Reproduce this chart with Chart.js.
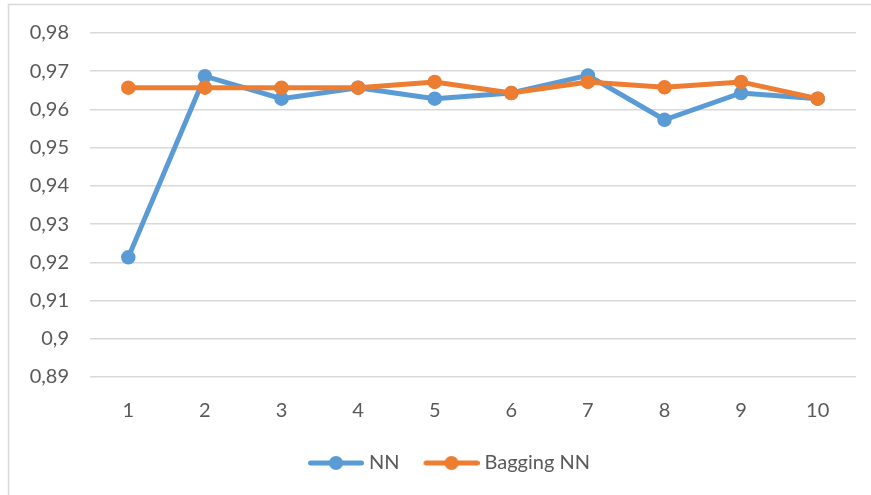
<!DOCTYPE html>
<html>
<head>
<meta charset="utf-8">
<script src="https://cdn.jsdelivr.net/npm/chart.js@4.4.1/dist/chart.umd.min.js"></script>
<style>
  html, body { margin: 0; padding: 0; background: #fff; }
  #wrap { width: 871px; height: 495px; }
</style>
</head>
<body>
<div id="wrap"><canvas id="c" width="871" height="495"></canvas></div>
<script>
// Run numbers 1..10
const categories = ['1', '2', '3', '4', '5', '6', '7', '8', '9', '10'];
// Accuracy per run
const nnValues = [0.9213, 0.9687, 0.9628, 0.9657, 0.9628, 0.9643, 0.9689, 0.9573, 0.9643, 0.9628];
const baggingValues = [0.9657, 0.9657, 0.9657, 0.9657, 0.9672, 0.9643, 0.9672, 0.9658, 0.9672, 0.9628];
const seriesNames = ['NN', 'Bagging NN'];
const yMin = 0.89, yMax = 0.98, yStep = 0.01;

const BLUE = '#5B9BD5';
const ORANGE = '#ED7D31';
const TEXT = '#595959';
const GRID = '#D9D9D9';
const FONT = "Lato, 'Open Sans', sans-serif";
const FONT_SIZE = 20;

// Legend swatch: short line with a dot in the middle.
// The canvas is wider than the legend box so the swatch sits close to its text.
const SWATCH_BOX = 51;
function swatch(color) {
  const w = 61, h = 16;
  const cv = document.createElement('canvas');
  cv.width = w; cv.height = h;
  const g = cv.getContext('2d');
  const x0 = 5, x1 = 61;
  g.strokeStyle = color;
  g.lineWidth = 5;
  g.lineCap = 'round';
  g.beginPath();
  g.moveTo(x0 + 2.5, h / 2);
  g.lineTo(x1 - 2.5, h / 2);
  g.stroke();
  g.fillStyle = color;
  g.beginPath();
  g.arc((x0 + x1) / 2, h / 2, 7, 0, Math.PI * 2);
  g.fill();
  return cv;
}

// Thin frame on the top and left edges; legend centred under the plot area
const framePlugin = {
  id: 'frame',
  afterLayout(chart) {
    const shift = 21;
    chart.legend.left += shift;
    chart.legend.right += shift;
  },
  beforeDraw(chart) {
    const ctx = chart.ctx;
    ctx.save();
    ctx.fillStyle = '#fff';
    ctx.fillRect(0, 0, chart.width, chart.height);
    ctx.strokeStyle = GRID;
    ctx.lineWidth = 1.5;
    ctx.beginPath();
    ctx.moveTo(8.5, chart.height);
    ctx.lineTo(8.5, 4.5);
    ctx.lineTo(chart.width, 4.5);
    ctx.stroke();
    ctx.restore();
  }
};

const fmt = v => {
  const r = Math.round(v * 100) / 100;
  return r.toString().replace('.', ',');
};

function lineSeries(label, values, color, order) {
  return {
    label,
    data: values,
    borderColor: color,
    backgroundColor: color,
    pointBackgroundColor: color,
    pointBorderColor: color,
    pointStyle: 'circle',
    borderWidth: 5,
    pointRadius: 6.5,
    pointBorderWidth: 1.5,
    tension: 0,
    order,
    legendSwatch: swatch(color)
  };
}

new Chart(document.getElementById('c'), {
  type: 'line',
  data: {
    labels: categories,
    datasets: [
      lineSeries(seriesNames[0], nnValues, BLUE, 1),
      lineSeries(seriesNames[1], baggingValues, ORANGE, 0)
    ]
  },
  options: {
    responsive: false,
    animation: false,
    layout: { padding: { left: 0, right: 15, top: 33, bottom: 12 } },
    plugins: {
      tooltip: { enabled: false },
      legend: {
        position: 'bottom',
        labels: {
          usePointStyle: true,
          pointStyleWidth: SWATCH_BOX,
          padding: 24,
          color: TEXT,
          font: { family: FONT, size: FONT_SIZE },
          generateLabels(chart) {
            return chart.data.datasets.map((ds, i) => ({
              text: ds.label,
              fillStyle: ds.borderColor,
              strokeStyle: ds.borderColor,
              lineWidth: 0,
              pointStyle: ds.legendSwatch,
              fontColor: TEXT,
              hidden: false,
              datasetIndex: i
            }));
          }
        }
      }
    },
    scales: {
      x: {
        offset: true,
        grid: { display: false, drawTicks: false },
        border: { display: false },
        ticks: { color: TEXT, font: { family: FONT, size: FONT_SIZE }, padding: 22 },
        afterFit(scale) { scale.height = 52; }
      },
      y: {
        min: yMin,
        max: yMax,
        grid: { color: GRID, lineWidth: 1.5, drawTicks: false },
        border: { display: false },
        ticks: {
          stepSize: yStep,
          color: TEXT,
          font: { family: FONT, size: FONT_SIZE },
          padding: 21,
          callback: v => fmt(v)
        },
        afterFit(scale) { scale.width = 90; }
      }
    }
  },
  plugins: [framePlugin]
});
</script>
</body>
</html>
